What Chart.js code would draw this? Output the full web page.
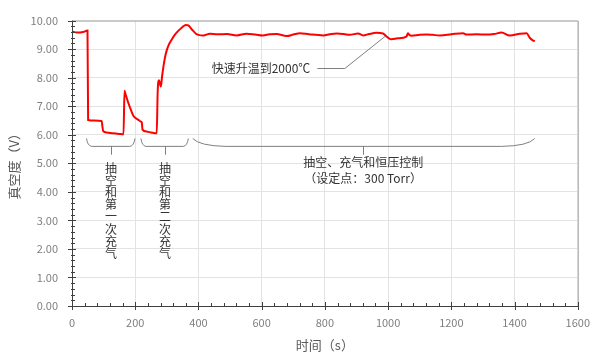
<!DOCTYPE html>
<html>
<head>
<meta charset="utf-8">
<script src="https://cdn.jsdelivr.net/npm/chart.js@4"></script>
<style>
  html, body { margin: 0; padding: 0; background: #fff; }
  #wrap { width: 600px; height: 364px; }
</style>
</head>
<body>
<div id="wrap"><canvas id="chart" width="600" height="364"></canvas></div>
<script>
// ─── DATOS ────────────────────────────────────────────────────
const timeS = [0, 15, 35, 49, 51, 70, 94, 96, 99, 110, 130, 150, 163, 166, 170, 178, 186, 194, 202, 210, 218, 221, 223, 236, 250, 268, 271, 275, 281, 285, 289, 294, 299, 306, 315, 325, 336, 348, 360, 368, 380, 392, 400, 415, 436, 460, 490, 521, 552, 580, 604, 625, 647, 679, 700, 721, 750, 795, 815, 837, 860, 879, 905, 921, 940, 963, 984, 995, 1005, 1011, 1030, 1058, 1063, 1068, 1074, 1100, 1121, 1140, 1164, 1200, 1237, 1248, 1280, 1311, 1335, 1359, 1385, 1417, 1438, 1448, 1459, 1464];
const vacuumV = [9.62, 9.58, 9.60, 9.65, 6.52, 6.50, 6.48, 6.30, 6.12, 6.08, 6.05, 6.03, 6.02, 7.54, 7.40, 7.12, 6.88, 6.67, 6.58, 6.52, 6.46, 6.42, 6.18, 6.11, 6.08, 6.05, 7.50, 7.91, 7.69, 8.05, 8.37, 8.70, 8.93, 9.15, 9.33, 9.50, 9.64, 9.76, 9.85, 9.83, 9.68, 9.54, 9.50, 9.48, 9.54, 9.52, 9.53, 9.48, 9.54, 9.51, 9.48, 9.52, 9.53, 9.46, 9.51, 9.56, 9.52, 9.48, 9.52, 9.55, 9.53, 9.50, 9.55, 9.48, 9.53, 9.57, 9.55, 9.44, 9.36, 9.35, 9.38, 9.44, 9.56, 9.49, 9.47, 9.50, 9.51, 9.50, 9.48, 9.52, 9.56, 9.51, 9.52, 9.51, 9.53, 9.58, 9.48, 9.54, 9.56, 9.40, 9.30, 9.28];

const xTitle = '时间（s）';
const yTitle = '真空度（V）';

// corchetes: [inicio, fin, medio, ancho de curva] en segundos
const bracketSpans = [[46, 199, 123, 16], [218, 368, 294, 16], [382, 1464, 921, 105]];
const bracketLevels = [5.87, 5.61, 5.30]; // extremo, línea, marca central (V)

const stageLabels = ['抽空和第一次充气', '抽空和第二次充气'];
const stageLabelX = [123, 294];
const holdLabel = ['抽空、充气和恒压控制', '（设定点：300 Torr）'];
const holdLabelX = 921;

const heatLabel = '快速升温到2000℃';
// línea guía: [s, V]
const heatLeader = [[776, 8.33], [863, 8.33], [990, 9.45]];

const FONT = '"Noto Sans CJK SC", "Noto Sans", sans-serif';
const GRAY = '#7f7f7f';
const TEXT = '#333333';

// ─── PLUGIN: marco, marcas y anotaciones ──────────────────────
const decorPlugin = {
    id: 'decor',
    afterDraw(chart) {
        const { ctx, chartArea: a, scales: { x, y } } = chart;
        ctx.save();

        // marco superior / derecho
        ctx.strokeStyle = '#a6a6a6';
        ctx.lineWidth = 1;
        ctx.beginPath();
        ctx.moveTo(a.left, a.top + 0.5);
        ctx.lineTo(a.right + 0.5, a.top + 0.5);
        ctx.lineTo(a.right + 0.5, a.bottom);
        ctx.stroke();

        // ejes
        ctx.strokeStyle = '#404040';
        ctx.beginPath();
        ctx.moveTo(a.left + 0.5, a.top);
        ctx.lineTo(a.left + 0.5, a.bottom + 0.5);
        ctx.lineTo(a.right + 0.5, a.bottom + 0.5);
        ctx.stroke();

        // marcas mayores y menores
        ctx.beginPath();
        for (let v = 0; v <= 1600; v += 40) {
            const px = Math.round(x.getPixelForValue(v)) + 0.5;
            const major = v % 200 === 0;
            ctx.moveTo(px, a.bottom - (major ? 4 : 3));
            ctx.lineTo(px, a.bottom + (major ? 4 : 1));
        }
        for (let i = 0; i <= 50; i++) {
            const py = Math.round(y.getPixelForValue(i * 0.2)) + 0.5;
            const major = i % 5 === 0;
            ctx.moveTo(a.left - (major ? 4 : 1), py);
            ctx.lineTo(a.left + (major ? 4 : 3), py);
        }
        ctx.stroke();

        // corchetes
        ctx.strokeStyle = GRAY;
        const yTop = y.getPixelForValue(bracketLevels[0]);
        const yLine = y.getPixelForValue(bracketLevels[1]);
        const yTick = y.getPixelForValue(bracketLevels[2]);
        bracketSpans.forEach(([s0, s1, sm, curl]) => {
            const x0 = x.getPixelForValue(s0), x1 = x.getPixelForValue(s1);
            const c0 = x.getPixelForValue(s0 + curl), c1 = x.getPixelForValue(s1 - curl);
            const xm = Math.round(x.getPixelForValue(sm)) + 0.5;
            ctx.beginPath();
            ctx.moveTo(x0, yTop);
            ctx.quadraticCurveTo(x0 + (c0 - x0) * 0.2, yLine, c0, yLine + 0.5);
            ctx.lineTo(c1, yLine + 0.5);
            ctx.quadraticCurveTo(x1 - (x1 - c1) * 0.2, yLine, x1, yTop);
            ctx.moveTo(xm, yLine);
            ctx.lineTo(xm, yTick);
            ctx.stroke();
        });

        // línea guía
        ctx.beginPath();
        heatLeader.forEach(([s, v], i) => {
            const px = x.getPixelForValue(s), py = Math.round(y.getPixelForValue(v)) + 0.5;
            if (i === 0) ctx.moveTo(px, py); else ctx.lineTo(px, py);
        });
        ctx.stroke();

        // textos
        ctx.fillStyle = TEXT;
        ctx.font = '12px ' + FONT;
        ctx.textAlign = 'center';
        ctx.textBaseline = 'middle';
        stageLabels.forEach((txt, k) => {
            const px = x.getPixelForValue(stageLabelX[k]);
            [...txt].forEach((ch, i) => ctx.fillText(ch, px, 168 + i * 12.2));
        });
        const hx = x.getPixelForValue(holdLabelX);
        ctx.fillText(holdLabel[0], hx, 162);
        ctx.fillText(holdLabel[1], hx, 178);

        ctx.textAlign = 'right';
        ctx.fillText(heatLabel, x.getPixelForValue(heatLeader[0][0]) - 7, y.getPixelForValue(heatLeader[0][1]));

        // títulos de ejes
        ctx.fillStyle = '#595959';
        ctx.font = '13px ' + FONT;
        ctx.textAlign = 'center';
        ctx.fillText(xTitle, (a.left + a.right) / 2, 345);
        ctx.translate(14, (a.top + a.bottom) / 2);
        ctx.rotate(-Math.PI / 2);
        ctx.fillText(yTitle, 0, 0);

        ctx.restore();
    }
};

// ─── GRÁFICO ──────────────────────────────────────────────────
new Chart(document.getElementById('chart').getContext('2d'), {
    type: 'line',
    data: {
        datasets: [{
            data: timeS.map((t, i) => ({ x: t, y: vacuumV[i] })),
            borderColor: '#ff0000',
            borderWidth: 2,
            pointRadius: 0,
            cubicInterpolationMode: 'monotone',
            fill: false
        }]
    },
    options: {
        responsive: false,
        animation: false,
        layout: { padding: { top: 12, right: 22, left: 0, bottom: 0 } },
        plugins: { legend: { display: false }, tooltip: { enabled: false } },
        scales: {
            x: {
                type: 'linear',
                min: 0,
                max: 1600,
                afterFit: s => { s.height = 58; },
                border: { display: false },
                grid: { color: '#e3e3e3', drawTicks: false },
                ticks: { stepSize: 200, padding: 10, color: GRAY, font: { family: FONT, size: 11 }, maxRotation: 0, callback: v => String(v) }
            },
            y: {
                min: 0,
                max: 10,
                afterFit: s => { s.width = 72; },
                border: { display: false },
                grid: { color: '#e3e3e3', drawTicks: false },
                ticks: { stepSize: 1, padding: 14, color: GRAY, font: { family: FONT, size: 11 }, callback: v => v.toFixed(2) }
            }
        }
    },
    plugins: [decorPlugin]
});
</script>
</body>
</html>
